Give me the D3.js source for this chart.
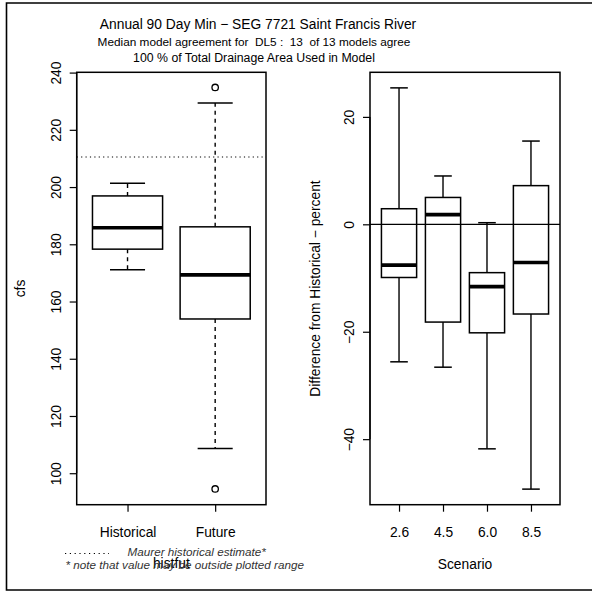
<!DOCTYPE html>
<html>
<head>
<meta charset="utf-8">
<script src="https://cdn.jsdelivr.net/npm/d3@7"></script>
<style>
  html, body { margin: 0; padding: 0; background: #fff; }
  svg { display: block; }
  text { font-family: "Liberation Sans", Arial, sans-serif; fill: #000; white-space: pre; }
</style>
</head>
<body>
<svg id="chart" width="592" height="592"></svg>
<script>
// ---- Data -------------------------------------------------------------
// Left panel: annual 90-day minimum flow (cfs), historical vs future models
const histfutGroups   = ["Historical", "Future"];
const histfutLow      = [171.1, 108.6];   // lower whisker end
const histfutQ1       = [178.3, 153.9];
const histfutMedian   = [185.8, 169.3];
const histfutQ3       = [196.9, 186.1];
const histfutHigh     = [201.3, 229.4];   // upper whisker end
const histfutOutliers = [[], [234.8, 94.5]];
const maurerEstimate  = 210.5;
const cfsTicks        = [100, 120, 140, 160, 180, 200, 220, 240];
const cfsLimits       = [89.0, 240.1];

// Right panel: percent difference from historical, by emission scenario
const scenarios   = ["2.6", "4.5", "6.0", "8.5"];
const pctLow      = [-25.6, -26.6, -41.8, -49.3];
const pctQ1       = [-9.9, -18.2, -20.2, -16.7];
const pctMedian   = [-7.6, 1.8, -11.6, -7.1];
const pctQ3       = [2.9, 5.0, -9.0, 7.2];
const pctHigh     = [25.4, 9.0, 0.3, 15.5];
const pctTicks    = [-40, -20, 0, 20];
const pctLimits   = [-52.2, 28.3];

const titleLines = [
  "Annual 90 Day Min \u2212 SEG 7721 Saint Francis River",
  "Median model agreement for  DL5 :  13  of 13 models agree",
  "100 % of Total Drainage Area Used in Model"
];

// ---- Layout -----------------------------------------------------------
const svg = d3.select("#chart");
const FS = 13.8;          // axis text size
const boxW = 0.8;         // box width in category units
const tickLen = 7;

// outer frame (right edge runs past the window)
svg.append("path")
  .attr("d", "M596,3 H6.5 V590 H596")
  .attr("fill", "none").attr("stroke", "#000").attr("stroke-width", 1.6);

// titles
const titleX = 258;
svg.append("text").attr("x", titleX).attr("y", 29)
  .attr("text-anchor", "middle").style("font-size", "13.8px").text(titleLines[0]);
svg.append("text").attr("x", titleX - 4).attr("y", 46)
  .attr("text-anchor", "middle").style("font-size", "11.8px").text(titleLines[1]);
svg.append("text").attr("x", titleX - 4).attr("y", 61.5)
  .attr("text-anchor", "middle").style("font-size", "12.3px").text(titleLines[2]);

function panel(opts) {
  const { left, right, top, bottom, n, yLim, yTicks, yTickFmt, labels,
          low, q1, med, q3, high, outliers, dashedWhiskers, yTitle, yTitleX, xTitle, xTitleY } = opts;
  const g = svg.append("g");
  const ext = 0.04 * n;
  const x = d3.scaleLinear().domain([0.5 - ext, n + 0.5 + ext]).range([left, right]);
  const y = d3.scaleLinear().domain(yLim).range([bottom, top]);

  // y axis (line spans first..last tick, rotated labels)
  const yAxis = d3.axisLeft(y).tickValues(yTicks).tickSize(tickLen).tickPadding(0).tickFormat(yTickFmt);
  const ya = g.append("g").attr("transform", `translate(${left},0)`).call(yAxis);
  ya.select(".domain").remove();
  ya.append("line").attr("x1", 0).attr("x2", 0)
    .attr("y1", y(yTicks[0])).attr("y2", y(yTicks[yTicks.length - 1]))
    .attr("stroke", "#000").attr("stroke-width", 1.2);
  ya.selectAll(".tick line").attr("stroke-width", 1.2);
  ya.selectAll(".tick text")
    .attr("x", 0).attr("y", 0).attr("dy", null)
    .attr("text-anchor", "middle")
    .attr("transform", "translate(-16,0) rotate(-90)")
    .style("font-size", FS + "px")
    .style("font-family", '"Liberation Sans", Arial, sans-serif');

  // x axis
  const xAxis = d3.axisBottom(x).tickValues(d3.range(1, n + 1)).tickSize(tickLen)
    .tickFormat((d) => labels[d - 1]);
  const xa = g.append("g").attr("transform", `translate(0,${bottom})`).call(xAxis);
  xa.select(".domain").remove();
  xa.selectAll(".tick line").attr("stroke-width", 1.2);
  xa.selectAll(".tick text").attr("y", 0).attr("dy", null)
    .attr("transform", "translate(0,32)")
    .style("font-size", FS + "px")
    .style("font-family", '"Liberation Sans", Arial, sans-serif');

  // axis titles
  g.append("text").attr("transform", `translate(${yTitleX},${(top + bottom) / 2}) rotate(-90)`)
    .attr("text-anchor", "middle").style("font-size", FS + "px").text(yTitle);
  g.append("text").attr("x", (left + right) / 2).attr("y", xTitleY)
    .attr("text-anchor", "middle").style("font-size", FS + "px").text(xTitle);

  // boxes
  const idx = d3.range(n);
  const hw = boxW / 2;
  const boxes = g.append("g").attr("stroke", "#000").attr("fill", "none");
  idx.forEach((i) => {
    const c = i + 1;
    const bx = boxes.append("g");
    // whiskers
    const ws = dashedWhiskers ? "4,4" : null;
    bx.append("line").attr("x1", x(c)).attr("x2", x(c)).attr("y1", y(q3[i])).attr("y2", y(high[i]))
      .attr("stroke-width", 1.4).attr("stroke-dasharray", ws);
    bx.append("line").attr("x1", x(c)).attr("x2", x(c)).attr("y1", y(q1[i])).attr("y2", y(low[i]))
      .attr("stroke-width", 1.4).attr("stroke-dasharray", ws);
    // staples
    [low[i], high[i]].forEach((v) => {
      bx.append("line").attr("x1", x(c - hw / 2)).attr("x2", x(c + hw / 2))
        .attr("y1", y(v)).attr("y2", y(v)).attr("stroke-width", 1.5);
    });
    // box
    bx.append("rect").attr("x", x(c - hw)).attr("width", x(c + hw) - x(c - hw))
      .attr("y", y(q3[i])).attr("height", y(q1[i]) - y(q3[i]))
      .attr("fill", "#fff").attr("stroke-width", 1.5);
    // median
    bx.append("line").attr("x1", x(c - hw)).attr("x2", x(c + hw))
      .attr("y1", y(med[i])).attr("y2", y(med[i])).attr("stroke-width", 3.6);
    // outliers
    (outliers ? outliers[i] : []).forEach((v) => {
      bx.append("circle").attr("cx", x(c)).attr("cy", y(v)).attr("r", 3.2)
        .attr("fill", "none").attr("stroke-width", 1.3);
    });
  });

  // plot frame
  g.append("rect").attr("x", left).attr("y", top).attr("width", right - left).attr("height", bottom - top)
    .attr("fill", "none").attr("stroke", "#000").attr("stroke-width", 1.5);
  return { g, x, y };
}

// Left: cfs by period
const L = panel({
  left: 76.7, right: 266, top: 72.3, bottom: 504.7, n: 2,
  yLim: cfsLimits, yTicks: cfsTicks, yTickFmt: d3.format("d"), labels: histfutGroups,
  low: histfutLow, q1: histfutQ1, med: histfutMedian, q3: histfutQ3, high: histfutHigh,
  outliers: histfutOutliers, dashedWhiskers: true,
  yTitle: "cfs", yTitleX: 24.5, xTitle: "histfut", xTitleY: 567.5
});
// Maurer historical estimate
L.g.append("line").attr("x1", 76.7).attr("x2", 266)
  .attr("y1", L.y(maurerEstimate)).attr("y2", L.y(maurerEstimate))
  .attr("stroke", "#000").attr("stroke-width", 1.2).attr("stroke-dasharray", "1.2,3.2");

// Right: percent difference by scenario
const R = panel({
  left: 370, right: 560, top: 72.3, bottom: 504.7, n: 4,
  yLim: pctLimits, yTicks: pctTicks, yTickFmt: d3.format("d"), labels: scenarios,
  low: pctLow, q1: pctQ1, med: pctMedian, q3: pctQ3, high: pctHigh,
  outliers: null, dashedWhiskers: false,
  yTitle: "Difference from Historical \u2212 percent", yTitleX: 319.5, xTitle: "Scenario", xTitleY: 568.5
});
// zero reference
R.g.append("line").attr("x1", 370).attr("x2", 560)
  .attr("y1", R.y(0)).attr("y2", R.y(0))
  .attr("stroke", "#000").attr("stroke-width", 1.3);

// legend
const lg = svg.append("g");
lg.append("line").attr("x1", 65).attr("x2", 109).attr("y1", 553.5).attr("y2", 553.5)
  .attr("stroke", "#000").attr("stroke-width", 1.2).attr("stroke-dasharray", "1.2,3.6");
lg.append("text").attr("x", 127.5).attr("y", 555.5).style("font-size", "11.7px")
  .style("font-style", "italic").style("fill", "#333").text("Maurer historical estimate*");
lg.append("text").attr("x", 65.5).attr("y", 568.5).style("font-size", "11.7px")
  .style("font-style", "italic").style("fill", "#333").text("* note that value may be outside plotted range");
</script>
</body>
</html>
